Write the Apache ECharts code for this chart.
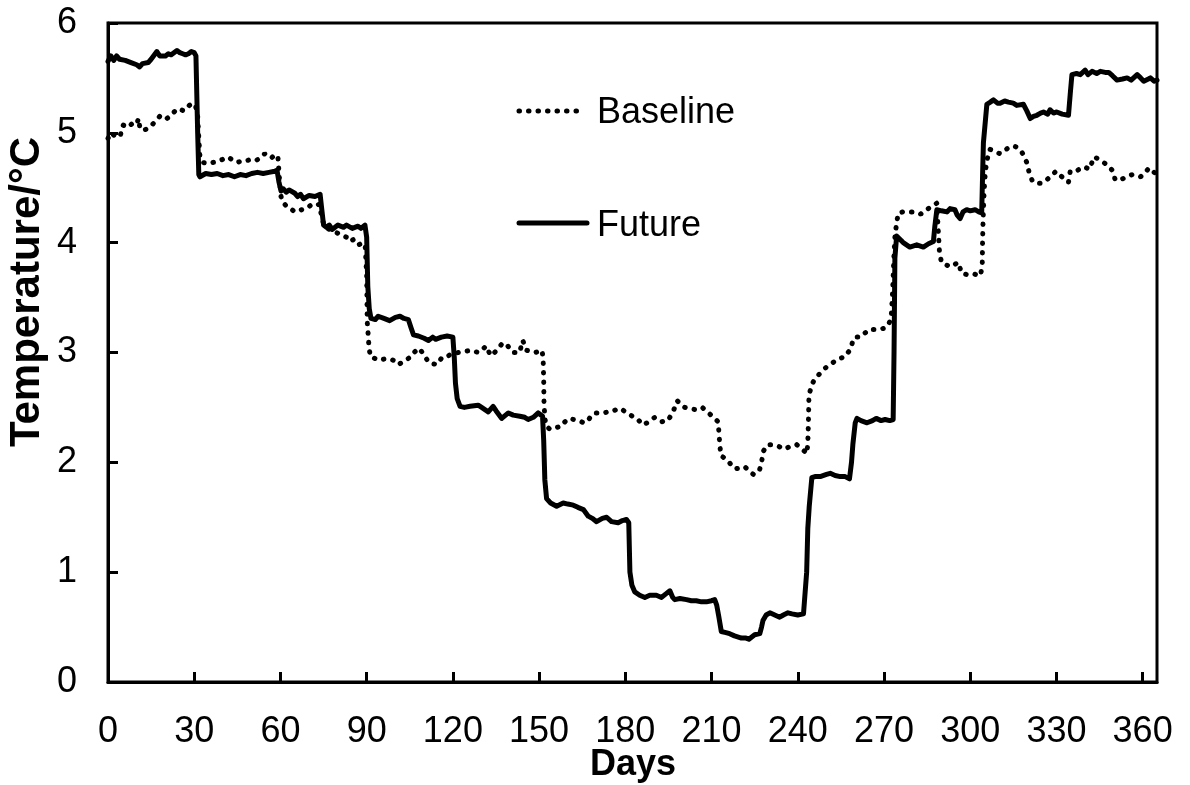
<!DOCTYPE html>
<html>
<head>
<meta charset="utf-8">
<script src="https://cdn.jsdelivr.net/npm/echarts@6/dist/echarts.min.js"></script>
<style>
html,body{margin:0;padding:0;background:#fff;overflow:hidden;}
#chart{width:1190px;height:785px;}
</style>
</head>
<body>
<div id="chart"></div>
<script>
// Tick values
const xTicks = [0, 30, 60, 90, 120, 150, 180, 210, 240, 270, 300, 330, 360];
const yTicks = [0, 1, 2, 3, 4, 5, 6];
const seriesNames = ['Baseline', 'Future'];
const xTitle = 'Days';
const yTitle = 'Temperature/°C';

// Baseline: [day, temperature °C]
const baseline = [
[0,4.95],[1,5.00],[2,4.98],[3,4.96],[4.2,4.97],[5.3,5.07],[7,5.05],[8.6,5.09],[10,5.08],[10.6,5.13],[11.2,5.03],[13,5.03],[14,5.04],[15.6,5.08],[17,5.12],[18,5.15],[20,5.12],[22,5.16],[23,5.19],[24.2,5.22],[26.5,5.20],[28.3,5.25],[29.5,5.27],[30.5,5.24],[31.2,5.15],[31.6,4.95],[32,4.78],[33,4.73],[34.6,4.72],[36.5,4.73],[38.3,4.74],[40,4.76],[41.8,4.78],[43.5,4.75],[45,4.73],[47,4.75],[48.7,4.75],[50,4.76],[51.6,4.75],[53,4.77],[54.5,4.81],[55.5,4.79],[56.8,4.77],[58,4.80],[59.1,4.79],[59.6,4.6],[60.2,4.42],[60.8,4.37],[62.5,4.32],[64,4.30],[65,4.28],[67.4,4.30],[69,4.31],[70.5,4.34],[72,4.33],[73.5,4.35],[74.5,4.22],[75.3,4.15],[76.3,4.13],[78,4.11],[79.6,4.09],[81.9,4.06],[83,4.05],[84.2,4.01],[85.5,4.03],[87.1,3.98],[88.8,4.00],[89.5,3.97],[90,3.7],[90.2,3.28],[90.5,3.17],[90.8,3.05],[91.3,2.96],[92.5,2.95],[94.2,2.93],[96,2.94],[98.3,2.94],[100,2.92],[101,2.89],[103,2.92],[105.3,2.96],[106.5,3.0],[108,3.04],[109.8,2.99],[111.5,2.91],[112.6,2.90],[114.4,2.89],[116.1,2.95],[117.3,2.95],[119,2.98],[120.2,2.99],[122,3.00],[124.3,3.01],[126,3.02],[127.5,3.01],[128.9,3.00],[130.5,3.03],[131.5,3.06],[133.2,2.97],[134.5,3.00],[135.6,3.03],[137.4,3.09],[139.1,3.06],[140.8,3.00],[142,3.00],[143.2,3.00],[144.3,3.11],[145.7,3.02],[147,3.01],[148.6,3.00],[150,3.01],[151,3.02],[151.4,2.95],[151.6,2.75],[151.7,2.55],[152,2.40],[152.5,2.33],[153.8,2.30],[155,2.31],[156.5,2.32],[157.9,2.33],[159,2.37],[160.4,2.40],[162,2.39],[163.9,2.38],[165.5,2.36],[166.8,2.37],[168,2.42],[169.4,2.45],[171,2.45],[172.6,2.45],[174,2.46],[175.2,2.46],[176.8,2.48],[178.4,2.49],[180,2.46],[181.8,2.43],[183,2.41],[184.1,2.40],[186,2.34],[187.6,2.36],[189,2.39],[190.3,2.41],[191.5,2.39],[192.8,2.37],[194,2.38],[194.9,2.38],[196.9,2.48],[198.1,2.56],[199.5,2.52],[200.7,2.50],[202.5,2.49],[204.4,2.48],[205.5,2.49],[206.8,2.50],[208,2.47],[209.4,2.44],[211,2.40],[212.3,2.37],[212.6,2.26],[212.9,2.15],[213.3,2.06],[214.5,2.04],[215.6,2.02],[217,1.97],[218.2,1.94],[220,1.95],[221.6,1.96],[223,1.92],[224.6,1.89],[226.6,1.92],[227.4,2.00],[228,2.10],[229.5,2.16],[231,2.16],[233,2.15],[235.3,2.12],[237,2.14],[238.5,2.15],[239.7,2.16],[241,2.13],[242,2.11],[243.2,2.08],[243.5,2.18],[243.7,2.35],[243.9,2.61],[244.9,2.71],[246,2.76],[247.4,2.80],[248.8,2.84],[250.1,2.87],[251.8,2.90],[253.4,2.93],[255,2.95],[256.5,2.96],[257.5,3.0],[258.4,3.03],[259.4,3.13],[260.5,3.14],[261.8,3.14],[263.5,3.18],[264.9,3.21],[266.5,3.21],[268.2,3.21],[270,3.22],[271.3,3.24],[272.5,3.31],[273,3.55],[273.4,3.84],[273.8,4.05],[274.4,4.18],[275,4.27],[276.5,4.28],[277.9,4.28],[279.5,4.28],[280.8,4.28],[282.8,4.26],[284.8,4.30],[286,4.32],[287.2,4.34],[288.4,4.36],[288.8,4.15],[289.3,3.92],[290,3.82],[291.5,3.80],[293,3.78],[294.5,3.80],[295.9,3.82],[297,3.72],[298.8,3.71],[300.5,3.72],[302,3.71],[303.6,3.70],[304.2,3.80],[304.3,4.0],[304.5,4.22],[304.8,4.44],[305,4.54],[305.3,4.65],[305.8,4.75],[306.9,4.85],[308.5,4.83],[310.4,4.81],[312,4.84],[313.6,4.87],[315,4.88],[316.2,4.87],[317.3,4.85],[318.3,4.81],[319.7,4.73],[320.6,4.63],[321.5,4.57],[322.6,4.54],[324.9,4.54],[326,4.56],[327,4.58],[328.5,4.62],[329.9,4.65],[331,4.62],[331.9,4.60],[333,4.57],[334.2,4.55],[334.8,4.65],[336.9,4.65],[338,4.67],[339.5,4.69],[341.6,4.67],[343,4.78],[344,4.77],[345.3,4.75],[347.6,4.71],[349.4,4.66],[350.5,4.57],[352,4.58],[352.9,4.58],[354.5,4.60],[356.4,4.62],[358,4.61],[359.3,4.60],[361,4.64],[362.2,4.68],[364.5,4.63],[365,4.65]
];

// Future: [day, temperature °C]
const future = [
[0,5.65],[1,5.70],[2,5.66],[3,5.70],[4,5.67],[6,5.66],[8,5.64],[10,5.62],[11,5.60],[12,5.63],[14,5.64],[15,5.67],[17,5.74],[18,5.70],[20,5.70],[21,5.72],[22,5.71],[24,5.75],[25,5.73],[26,5.72],[27,5.71],[28,5.72],[29,5.74],[30,5.73],[30.6,5.70],[31.2,5.0],[31.6,4.62],[32,4.60],[34,4.63],[36,4.62],[38,4.63],[40,4.61],[42,4.62],[44,4.60],[46,4.62],[48,4.61],[50,4.63],[52,4.64],[54,4.63],[56,4.64],[58,4.65],[58.8,4.66],[59.5,4.55],[60.2,4.47],[61,4.49],[62,4.46],[63,4.48],[65,4.45],[66,4.42],[67,4.44],[68,4.40],[70,4.43],[72,4.42],[73.8,4.44],[74.4,4.30],[75,4.16],[76,4.14],[77,4.16],[78,4.12],[80,4.16],[82,4.14],[83,4.16],[85,4.13],[87,4.15],[88,4.13],[89.4,4.16],[90,4.05],[90.4,3.6],[90.9,3.40],[91.5,3.31],[93,3.30],[94,3.33],[96,3.31],[98,3.29],[100,3.32],[101.6,3.33],[103,3.31],[104.5,3.30],[105.5,3.22],[106.3,3.16],[108,3.15],[110,3.13],[111.5,3.11],[113,3.14],[114,3.12],[116,3.14],[118,3.15],[120,3.14],[120.5,2.95],[120.9,2.72],[121.5,2.58],[122.5,2.51],[124,2.50],[126,2.51],[128.8,2.52],[130,2.50],[132.3,2.46],[134,2.51],[135,2.47],[137,2.40],[139.3,2.45],[141,2.43],[143.3,2.42],[145,2.41],[146.2,2.39],[148,2.41],[149.7,2.45],[151.2,2.42],[151.6,2.2],[152,1.84],[152.6,1.67],[154,1.63],[156.1,1.60],[158.4,1.63],[160,1.62],[161.9,1.61],[163.5,1.59],[165.4,1.57],[167.1,1.51],[168.5,1.49],[170,1.46],[172,1.49],[173.5,1.50],[175.2,1.46],[177.5,1.45],[179,1.47],[180.4,1.48],[181.2,1.45],[181.6,1.0],[182.3,0.88],[183.3,0.82],[185,0.79],[186.8,0.77],[188.5,0.79],[190.8,0.79],[192.6,0.77],[194,0.80],[195.5,0.83],[196.5,0.77],[197.2,0.75],[199,0.76],[201.3,0.75],[203,0.74],[204.7,0.74],[206.5,0.73],[208.2,0.73],[210,0.74],[211.1,0.75],[211.8,0.70],[212.5,0.60],[213.4,0.46],[215,0.45],[216.3,0.44],[218,0.42],[220.4,0.40],[222,0.40],[223,0.39],[225,0.43],[226.8,0.44],[227.4,0.50],[227.9,0.56],[229,0.61],[230.3,0.63],[232,0.61],[233.7,0.59],[235,0.61],[236.6,0.63],[238,0.62],[240,0.61],[242,0.62],[242.6,0.63],[243.1,1.0],[243.5,1.4],[244,1.6],[244.9,1.86],[246,1.87],[247.8,1.87],[250,1.89],[251.3,1.90],[253,1.88],[254.8,1.87],[256.5,1.87],[258,1.85],[258.7,2.0],[259.2,2.17],[260,2.36],[260.6,2.40],[262,2.38],[264.1,2.36],[266,2.38],[267.3,2.40],[269,2.38],[270.4,2.39],[272,2.38],[273.2,2.39],[273.5,3.0],[273.8,3.86],[274.4,4.06],[276,4.02],[276.7,4.00],[279,3.96],[281.4,3.98],[283.7,3.96],[285.5,3.99],[287.2,4.01],[287.7,4.15],[288.4,4.30],[290,4.29],[291.9,4.28],[293,4.31],[294.7,4.30],[295.5,4.25],[296.5,4.22],[297.5,4.28],[298.8,4.30],[300,4.29],[301.7,4.30],[303,4.28],[304,4.27],[304.3,4.6],[304.6,4.91],[305.8,5.26],[307,5.28],[308.1,5.30],[309.5,5.27],[310.4,5.27],[312,5.29],[313.3,5.28],[315,5.27],[316.2,5.25],[318.5,5.26],[319.7,5.20],[320.9,5.13],[322,5.15],[323.2,5.16],[324.5,5.18],[325.5,5.19],[327,5.17],[327.8,5.21],[329,5.18],[330.1,5.19],[332,5.17],[334.2,5.16],[334.8,5.35],[335.4,5.53],[337,5.54],[338.3,5.53],[340,5.57],[341,5.53],[342.4,5.56],[344,5.54],[345.3,5.56],[347,5.55],[348.2,5.55],[349.5,5.52],[351.1,5.48],[353,5.49],[354.6,5.50],[356,5.48],[358.1,5.53],[359.3,5.50],[360.4,5.47],[362,5.49],[362.7,5.50],[364,5.47],[365,5.48]
];

const FONT = '"Liberation Sans", Arial, sans-serif';
const BASE_DASH = [0.5, 9];
const chart = echarts.init(document.getElementById('chart'), null, {renderer: 'canvas'});
chart.setOption({
  animation: false,
  backgroundColor: '#fff',
  textStyle: {fontFamily: FONT, color: '#000'},
  grid: {left: 108, right: 33, top: 23, bottom: 103, show: true, borderColor: '#000', borderWidth: 3,
    containLabel: false, outerBoundsMode: 'none'},
  xAxis: {
    type: 'value', min: 0, max: 365, interval: 30,
    axisLine: {lineStyle: {color: '#000', width: 3}},
    axisTick: {inside: true, length: 10, lineStyle: {color: '#000', width: 3}},
    axisLabel: {fontFamily: FONT, fontSize: 36, color: '#000', margin: 32, showMaxLabel: false,
      formatter: v => xTicks.indexOf(v) >= 0 ? String(v) : ''},
    splitLine: {show: false}
  },
  yAxis: {
    type: 'value', min: 0, max: 6, interval: 1,
    axisLine: {show: true, lineStyle: {color: '#000', width: 3}},
    axisTick: {show: true, inside: true, length: 10, lineStyle: {color: '#000', width: 3}},
    axisLabel: {fontFamily: FONT, fontSize: 36, color: '#000', margin: 31,
      formatter: v => yTicks.indexOf(v) >= 0 ? String(v) : ''},
    splitLine: {show: false}
  },
  graphic: [
    {type: 'text', x: 633, y: 765,
     style: {text: xTitle, font: 'bold 36px ' + FONT, fill: '#000', align: 'center', verticalAlign: 'middle'}},
    {type: 'text', x: 27, y: 292, rotation: Math.PI / 2,
     style: {text: yTitle, font: 'bold 42px ' + FONT, fill: '#000', align: 'center', verticalAlign: 'middle'}},
    // legend samples
    {type: 'line', shape: {x1: 519, y1: 111, x2: 582, y2: 111},
     style: {stroke: '#000', lineWidth: 5, lineDash: BASE_DASH, lineCap: 'round'}},
    {type: 'text', x: 597, y: 113,
     style: {text: seriesNames[0], font: '36px ' + FONT, fill: '#000', align: 'left', verticalAlign: 'middle'}},
    {type: 'line', shape: {x1: 519, y1: 223, x2: 587, y2: 223},
     style: {stroke: '#000', lineWidth: 5, lineCap: 'round'}},
    {type: 'text', x: 597, y: 226,
     style: {text: seriesNames[1], font: '36px ' + FONT, fill: '#000', align: 'left', verticalAlign: 'middle'}}
  ],
  series: [
    {
      name: seriesNames[0], type: 'line', data: baseline, symbol: 'none', showSymbol: false,
      lineStyle: {color: '#000', width: 5, type: BASE_DASH, cap: 'round'}
    },
    {
      name: seriesNames[1], type: 'line', data: future, symbol: 'none', showSymbol: false,
      lineStyle: {color: '#000', width: 5, type: 'solid', join: 'round', cap: 'round'}
    }
  ]
});
</script>
</body>
</html>
